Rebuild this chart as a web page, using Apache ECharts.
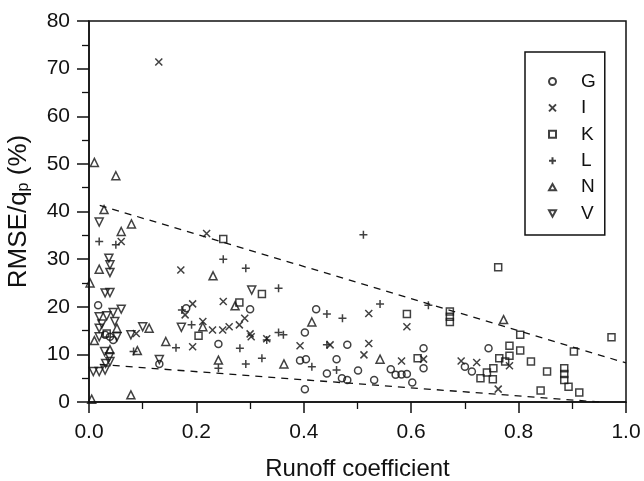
<!DOCTYPE html>
<html>
<head>
<meta charset="utf-8">
<script src="https://cdn.jsdelivr.net/npm/echarts@6/dist/echarts.min.js"></script>
<style>
  html, body { margin: 0; padding: 0; background: #fff; }
  #chart { width: 644px; height: 481px; }
</style>
</head>
<body>
<div id="chart"></div>
<script>
// catchments: [runoff coefficient, RMSE/qp %]
const catchments = ["G", "I", "K", "L", "N", "V"];

const pointsG = [
  [0.017, 20.3], [0.030, 14.1], [0.045, 13.0], [0.039, 13.7], [0.131, 8.0],
  [0.181, 19.7], [0.241, 12.2], [0.300, 19.5], [0.393, 8.7], [0.404, 9.0],
  [0.402, 14.6], [0.423, 19.5], [0.402, 2.7], [0.481, 12.0], [0.461, 9.0],
  [0.443, 6.0], [0.471, 5.0], [0.481, 4.6], [0.501, 6.6], [0.531, 4.6],
  [0.562, 6.9], [0.571, 5.7], [0.582, 5.8], [0.592, 5.9], [0.602, 4.1],
  [0.623, 11.3], [0.623, 7.1], [0.700, 7.4], [0.713, 6.4], [0.744, 11.3]
];
const pointsI = [
  [0.130, 71.4], [0.060, 33.7], [0.088, 14.4], [0.171, 27.7], [0.193, 11.6],
  [0.219, 35.4], [0.250, 21.1], [0.193, 20.6], [0.179, 18.3], [0.290, 17.6],
  [0.212, 16.9], [0.230, 15.1], [0.249, 15.1], [0.261, 15.8], [0.280, 16.2],
  [0.300, 14.3], [0.302, 13.7], [0.331, 13.3], [0.393, 11.8], [0.449, 12.0],
  [0.521, 12.3], [0.512, 9.9], [0.521, 18.6], [0.592, 15.8], [0.582, 8.6],
  [0.623, 9.0], [0.693, 8.6], [0.722, 8.3], [0.783, 7.6], [0.762, 2.7]
];
const pointsK = [
  [0.033, 14.4], [0.250, 34.2], [0.322, 22.7], [0.280, 20.9], [0.204, 13.9],
  [0.672, 19.0], [0.672, 17.9], [0.672, 16.8], [0.592, 18.5], [0.612, 9.2],
  [0.762, 28.3], [0.803, 14.1], [0.973, 13.6], [0.903, 10.6], [0.783, 11.8],
  [0.803, 10.8], [0.783, 9.7], [0.764, 9.2], [0.775, 8.5], [0.823, 8.5],
  [0.753, 7.1], [0.741, 6.2], [0.729, 5.0], [0.752, 4.8], [0.853, 6.4],
  [0.885, 7.1], [0.885, 5.9], [0.885, 4.6], [0.893, 3.2], [0.913, 2.0],
  [0.841, 2.4]
];
const pointsL = [
  [0.019, 33.7], [0.050, 33.0], [0.083, 10.6], [0.162, 11.4], [0.250, 30.0],
  [0.292, 28.1], [0.353, 23.9], [0.173, 19.3], [0.191, 16.2], [0.331, 13.0],
  [0.353, 14.6], [0.362, 14.1], [0.281, 11.3], [0.241, 7.1], [0.292, 8.0],
  [0.322, 9.2], [0.415, 7.4], [0.511, 35.1], [0.542, 20.6], [0.632, 20.3],
  [0.443, 18.5], [0.472, 17.6], [0.443, 12.0], [0.461, 6.7]
];
const pointsN = [
  [0.010, 50.3], [0.050, 47.5], [0.028, 40.4], [0.079, 37.4], [0.060, 35.8],
  [0.019, 27.9], [0.002, 25.0], [0.052, 15.5], [0.010, 12.9], [0.039, 11.0],
  [0.078, 1.5], [0.005, 0.6], [0.112, 15.5], [0.090, 10.8], [0.143, 12.7],
  [0.231, 26.5], [0.272, 20.2], [0.212, 15.8], [0.241, 8.8], [0.363, 8.0],
  [0.415, 16.8], [0.542, 9.0], [0.772, 17.3]
];
const pointsV = [
  [0.019, 37.8], [0.037, 30.2], [0.039, 28.8], [0.039, 27.2], [0.030, 22.9],
  [0.039, 23.0], [0.060, 19.5], [0.045, 18.8], [0.019, 17.9], [0.033, 18.1],
  [0.048, 16.9], [0.024, 16.4], [0.019, 15.5], [0.052, 13.7], [0.019, 13.7],
  [0.029, 10.6], [0.038, 9.5], [0.039, 8.5], [0.031, 8.1], [0.008, 6.4],
  [0.019, 6.4], [0.030, 6.7], [0.078, 14.1], [0.100, 15.8], [0.131, 8.9],
  [0.172, 15.7], [0.303, 23.5]
];

// dashed envelope lines
const upperEnvelope = [[0.02, 41.3], [1.0, 8.2]];
const lowerEnvelope = [[0.02, 7.9], [0.95, 0]];

const INK = "#111";
const FONT = "Liberation Sans, Arial, sans-serif";

const markerStyle = { color: "rgba(0,0,0,0)", borderColor: INK, borderWidth: 1.5 };

const symbols = {
  G: { symbol: "circle", size: 7 },
  I: { symbol: "path://M0,0L10,10M10,0L0,10", size: 7 },
  K: { symbol: "rect", size: 7 },
  L: { symbol: "path://M5,0L5,10M0,5L10,5", size: 8 },
  N: { symbol: "path://M5,0L10,9L0,9Z", size: 8 },
  V: { symbol: "path://M0,0L10,0L5,9Z", size: 8 },
};
const pointSets = { G: pointsG, I: pointsI, K: pointsK, L: pointsL, N: pointsN, V: pointsV };

const chart = echarts.init(document.getElementById("chart"), null, { renderer: "canvas" });

const scatterSeries = catchments.map(name => ({
  name,
  type: "scatter",
  data: pointSets[name],
  symbol: symbols[name].symbol,
  symbolSize: symbols[name].size,
  itemStyle: markerStyle,
  z: 3,
}));

const option = {
  animation: false,
  backgroundColor: "#fff",
  grid: {
    left: 89,
    right: 18,
    top: 21,
    bottom: 79,
    outerBoundsMode: "none",
    containLabel: false,
    show: true,
    borderColor: INK,
    borderWidth: 1.5,
  },
  legend: {
    data: catchments,
    orient: "vertical",
    left: 525,
    top: 52,
    padding: [20, 9, 12, 23],
    itemWidth: 7,
    itemHeight: 7,
    itemGap: 7.4,
    borderColor: INK,
    borderWidth: 1.5,
    textStyle: {
      color: INK,
      fontFamily: FONT,
      fontSize: 19,
      lineHeight: 16,
      padding: [0, 0, 0, 20],
    },
  },
  xAxis: {
    type: "value",
    min: 0,
    max: 1,
    interval: 0.2,
    name: "Runoff coefficient",
    nameLocation: "middle",
    nameGap: 55,
    nameTextStyle: { color: INK, fontFamily: FONT, fontSize: 24 },
    axisLine: { lineStyle: { color: INK, width: 1.5 } },
    axisTick: { length: 11, lineStyle: { color: INK, width: 1.5 } },
    minorTick: { show: true, splitNumber: 2, length: 7, lineStyle: { color: INK, width: 1.3 } },
    splitLine: { show: false },
    axisLabel: {
      color: INK,
      fontFamily: FONT,
      fontSize: 21,
      margin: 20,
      formatter: v => v.toFixed(1),
    },
  },
  yAxis: {
    type: "value",
    min: 0,
    max: 80,
    interval: 10,
    name: "RMSE/q{sub|p} (%)",
    nameLocation: "middle",
    nameGap: 57,
    nameRotate: 90,
    nameTextStyle: {
      color: INK,
      fontFamily: FONT,
      fontSize: 26,
      rich: {
        sub: { fontFamily: FONT, fontSize: 16, color: INK, verticalAlign: "bottom", padding: [11, 0, 0, 0] },
      },
    },
    axisLine: { lineStyle: { color: INK, width: 1.5 } },
    axisTick: { length: 12, lineStyle: { color: INK, width: 1.5 } },
    minorTick: { show: true, splitNumber: 2, length: 7, lineStyle: { color: INK, width: 1.3 } },
    splitLine: { show: false },
    axisLabel: { color: INK, fontFamily: FONT, fontSize: 21, margin: 19 },
  },
  series: [
    ...scatterSeries,
    {
      name: "upper",
      type: "line",
      data: upperEnvelope,
      symbol: "none",
      lineStyle: { color: INK, width: 1.3, type: [7, 6] },
      z: 2,
    },
    {
      name: "lower",
      type: "line",
      data: lowerEnvelope,
      symbol: "none",
      lineStyle: { color: INK, width: 1.3, type: [7, 6] },
      z: 2,
    },
  ],
};

chart.setOption(option);
</script>
</body>
</html>
